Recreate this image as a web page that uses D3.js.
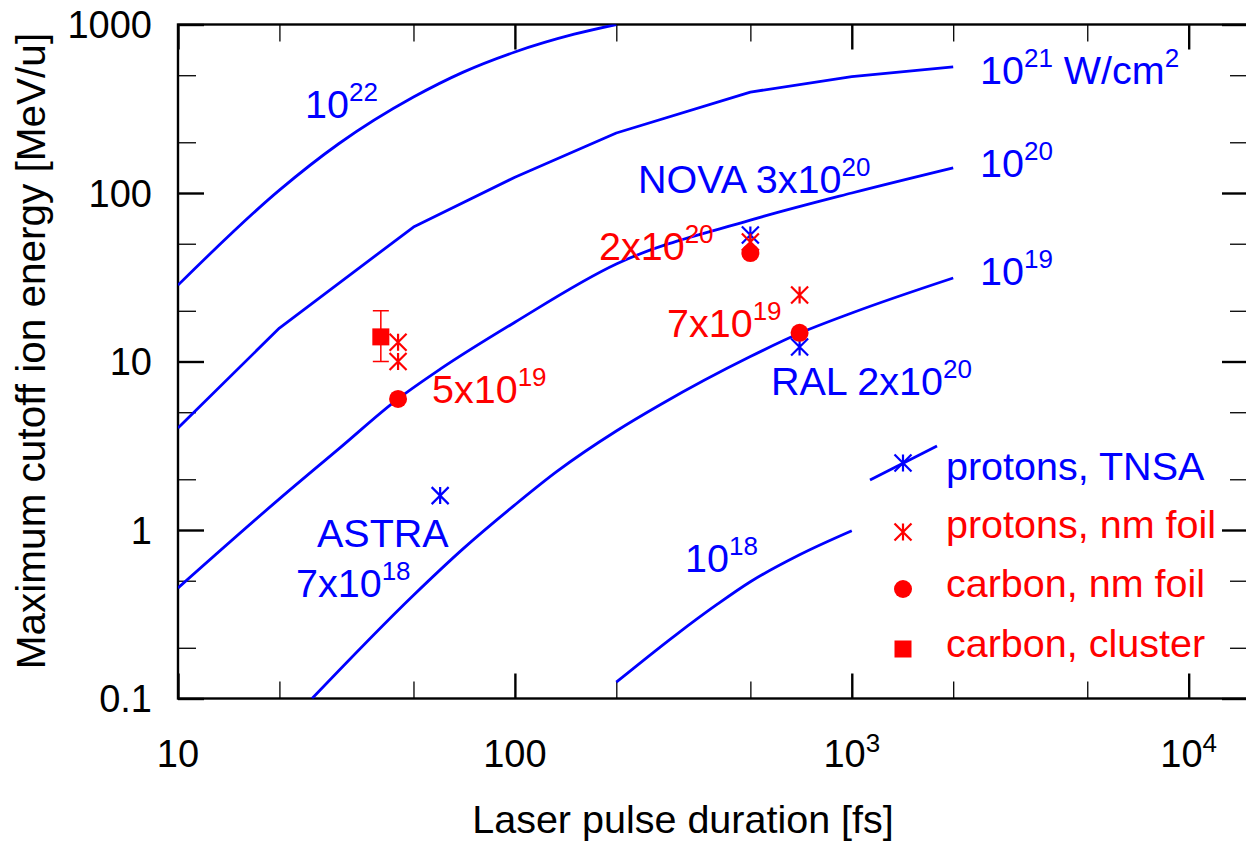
<!DOCTYPE html>
<html><head><meta charset="utf-8">
<script src="https://cdn.jsdelivr.net/npm/d3@7"></script>
<style>
body{margin:0;background:#fff}
svg{display:block}
text{font-family:"Liberation Sans",Arial,Helvetica,sans-serif}
</style>
</head><body>
<svg id="chart" width="1246" height="841"></svg>
<script>
// ---------- axis data ----------
const xDomain = [10, 15000];
const yDomain = [0.1, 1000];
const xMajorTicks = [10, 100, 1000, 10000];
const xMinorTicks = [20, 50, 200, 500, 2000, 5000];
const yMajorTicks = [0.1, 1, 10, 100, 1000];
const yMinorTicks = [0.2, 0.5, 2, 5, 20, 50, 200, 500];
const xTickBase = ["10", "100", "10", "10"];
const xTickSup = ["", "", "3", "4"];
const yTickLabels = ["0.1", "1", "10", "100", "1000"];
const xTitle = "Laser pulse duration [fs]";
const yTitle = "Maximum cutoff ion energy [MeV/u]";

// ---------- model curves (pulse duration fs, energy MeV/u) ----------
const dur1e22 = [10, 20, 30, 50, 70, 100, 150, 200];
const en1e22  = [28.4, 104, 196, 371, 520, 687, 876, 1000];
const dur1e21 = [10, 20, 50, 100, 200, 500, 1000, 2000];
const en1e21  = [4.03, 15.8, 62.8, 124, 227, 397, 490, 560];
const dur1e20 = [10, 20, 30, 45, 60, 100, 200, 500, 1000, 2000];
const en1e20  = [0.453, 1.53, 3.03, 6.0, 9.0, 17.1, 37.9, 69, 100, 141];
const dur1e19 = [25, 50, 70, 100, 133, 200, 270, 500, 700, 1000, 2000];
const en1e19  = [0.1, 0.41, 0.77, 1.41, 2.22, 3.87, 5.54, 10.7, 14.7, 19.4, 31.3];
const dur1e18 = [200, 300, 400, 500, 700, 1000];
const en1e18  = [0.125, 0.238, 0.364, 0.493, 0.713, 0.99];

// ---------- measurements ----------
const tnsaDur = [500, 700, 60];
const tnsaEn  = [56.4, 12.2, 1.6];
const nmProtonDur = [500, 700, 45, 45];
const nmProtonEn  = [51.2, 24.8, 13, 10];
const nmCarbonDur = [500, 700, 45];
const nmCarbonEn  = [44, 14.8, 6.0];
const clusterDur = [40];
const clusterEn  = [14];
const clusterLo  = [10];
const clusterHi  = [20];

const legendLabels = ["protons, TNSA", "protons, nm foil", "carbon, nm foil", "carbon, cluster"];

// ---------- layout ----------
const BLUE = "#0000ff", RED = "#ff0000";
const L = 178, R = 1248, T = 24.5, B = 698.5;
const FS = 38, FT = 39.5, SUP = 26;

const svg = d3.select("#chart");
const x = d3.scaleLog().domain(xDomain).range([L, R]);
const y = d3.scaleLog().domain(yDomain).range([B, T]);

svg.append("defs").append("clipPath").attr("id", "clip")
  .append("rect").attr("x", L).attr("y", T).attr("width", R - L).attr("height", B - T);

function tickAxis(gen, values, size, transform, sw) {
  const g = svg.append("g").attr("transform", transform)
    .call(gen.tickValues(values).tickSize(size).tickSizeOuter(0).tickFormat(""));
  g.select(".domain").remove();
  g.selectAll(".tick line").attr("stroke", "#000").attr("stroke-width", sw);
  return g;
}
tickAxis(d3.axisBottom(x), xMajorTicks, -25, `translate(0,${B})`, 2.4);
tickAxis(d3.axisBottom(x), xMinorTicks, -17, `translate(0,${B})`, 1.3);
tickAxis(d3.axisTop(x), xMajorTicks, -25, `translate(0,${T})`, 2.4);
tickAxis(d3.axisTop(x), xMinorTicks, -17, `translate(0,${T})`, 1.3);
tickAxis(d3.axisLeft(y), yMajorTicks, -26, `translate(${L},0)`, 2.4);
tickAxis(d3.axisLeft(y), yMinorTicks, -18, `translate(${L},0)`, 1.3);
tickAxis(d3.axisRight(y), yMajorTicks, -26, `translate(${R},0)`, 2.4);
tickAxis(d3.axisRight(y), yMinorTicks, -18, `translate(${R},0)`, 1.3);

svg.append("rect").attr("x", L).attr("y", T).attr("width", R - L).attr("height", B - T)
  .attr("fill", "none").attr("stroke", "#000").attr("stroke-width", 2.4);

// tick labels
xMajorTicks.forEach((v, i) => {
  const t = svg.append("text").attr("x", x(v)).attr("y", 767)
    .attr("text-anchor", "middle").attr("font-size", FS).attr("fill", "#000");
  t.append("tspan").text(xTickBase[i]);
  if (xTickSup[i]) t.append("tspan").attr("dy", -15).attr("font-size", SUP).text(xTickSup[i]);
});
yMajorTicks.forEach((v, i) => {
  svg.append("text").attr("x", 152).attr("y", y(v)).attr("dy", "0.36em")
    .attr("text-anchor", "end").attr("font-size", FS).attr("fill", "#000").text(yTickLabels[i]);
});

// axis titles
svg.append("text").attr("x", 683).attr("y", 833).attr("text-anchor", "middle")
  .attr("font-size", FT).attr("fill", "#000").text(xTitle);
svg.append("text").attr("transform", "translate(45,351) rotate(-90)").attr("text-anchor", "middle")
  .attr("font-size", 40.5).attr("fill", "#000").text(yTitle);

// curves
const curves = [
  [dur1e22, en1e22, d3.curveMonotoneX],
  [dur1e21, en1e21, d3.curveLinear],
  [dur1e20, en1e20, d3.curveMonotoneX],
  [dur1e19, en1e19, d3.curveMonotoneX],
  [dur1e18, en1e18, d3.curveMonotoneX]
];
const cg = svg.append("g").attr("clip-path", "url(#clip)");
curves.forEach(([ds, es, cv]) => {
  const line = d3.line().x(d => x(d[0])).y(d => y(d[1])).curve(cv);
  cg.append("path").datum(ds.map((d, i) => [d, es[i]]))
    .attr("d", line).attr("fill", "none").attr("stroke", BLUE).attr("stroke-width", 2.8)
    .attr("stroke-linejoin", "round");
});

// markers
const S = 8.5;
function star(g, cx, cy, color) {
  g.append("path")
    .attr("d", `M${cx},${cy - S}L${cx},${cy + S}M${cx - S},${cy - S}L${cx + S},${cy + S}M${cx - S},${cy + S}L${cx + S},${cy - S}`)
    .attr("stroke", color).attr("stroke-width", 2.2).attr("fill", "none");
}
const mg = svg.append("g");
tnsaDur.forEach((d, i) => star(mg, x(d), y(tnsaEn[i]), BLUE));
nmProtonDur.forEach((d, i) => star(mg, x(d), y(nmProtonEn[i]), RED));
nmCarbonDur.forEach((d, i) => mg.append("circle").attr("cx", x(d)).attr("cy", y(nmCarbonEn[i])).attr("r", 9).attr("fill", RED));
clusterDur.forEach((d, i) => {
  const cx = x(d);
  mg.append("path")
    .attr("d", `M${cx},${y(clusterLo[i])}L${cx},${y(clusterHi[i])}M${cx - 8},${y(clusterLo[i])}L${cx + 8},${y(clusterLo[i])}M${cx - 8},${y(clusterHi[i])}L${cx + 8},${y(clusterHi[i])}`)
    .attr("stroke", RED).attr("stroke-width", 1.5).attr("fill", "none");
  mg.append("rect").attr("x", cx - 8.5).attr("y", y(clusterEn[i]) - 8.5).attr("width", 17).attr("height", 17).attr("fill", RED);
});

// annotations: [x, y, color, [[text, isSup], ...]]
const notes = [
  [305, 118, BLUE, [["10", 0], ["22", 1]]],
  [980, 84, BLUE, [["10", 0], ["21", 1], [" W/cm", 0], ["2", 1]]],
  [980, 177, BLUE, [["10", 0], ["20", 1]]],
  [980, 285, BLUE, [["10", 0], ["19", 1]]],
  [638, 193, BLUE, [["NOVA 3x10", 0], ["20", 1]]],
  [599, 260, RED, [["2x10", 0], ["20", 1]]],
  [667, 337, RED, [["7x10", 0], ["19", 1]]],
  [771, 395, BLUE, [["RAL 2x10", 0], ["20", 1]]],
  [432, 403, RED, [["5x10", 0], ["19", 1]]],
  [317, 547, BLUE, [["ASTRA", 0]]],
  [296, 597, BLUE, [["7x10", 0], ["18", 1]]],
  [685, 572, BLUE, [["10", 0], ["18", 1]]]
];
notes.forEach(([nx, ny, col, parts]) => {
  const t = svg.append("text").attr("x", nx).attr("y", ny).attr("font-size", FT).attr("fill", col);
  let up = false;
  parts.forEach(([s, sup]) => {
    const ts = t.append("tspan").text(s);
    if (sup && !up) { ts.attr("dy", -17).attr("font-size", SUP); up = true; }
    else if (!sup && up) { ts.attr("dy", 17); up = false; }
    else if (sup) ts.attr("font-size", SUP);
  });
});

// legend
const legY = [480, 538, 597, 657];
const lg = svg.append("g");
legendLabels.forEach((s, i) => {
  lg.append("text").attr("x", 946).attr("y", legY[i]).attr("font-size", FT)
    .attr("fill", i === 0 ? BLUE : RED).text(s);
});
lg.append("line").attr("x1", 870).attr("y1", 480).attr("x2", 937).attr("y2", 446)
  .attr("stroke", BLUE).attr("stroke-width", 2.8);
star(lg, 903, 463, BLUE);
star(lg, 903, 532, RED);
lg.append("circle").attr("cx", 903).attr("cy", 589).attr("r", 9).attr("fill", RED);
lg.append("rect").attr("x", 894.5).attr("y", 640.5).attr("width", 17).attr("height", 17).attr("fill", RED);
</script>
</body></html>
